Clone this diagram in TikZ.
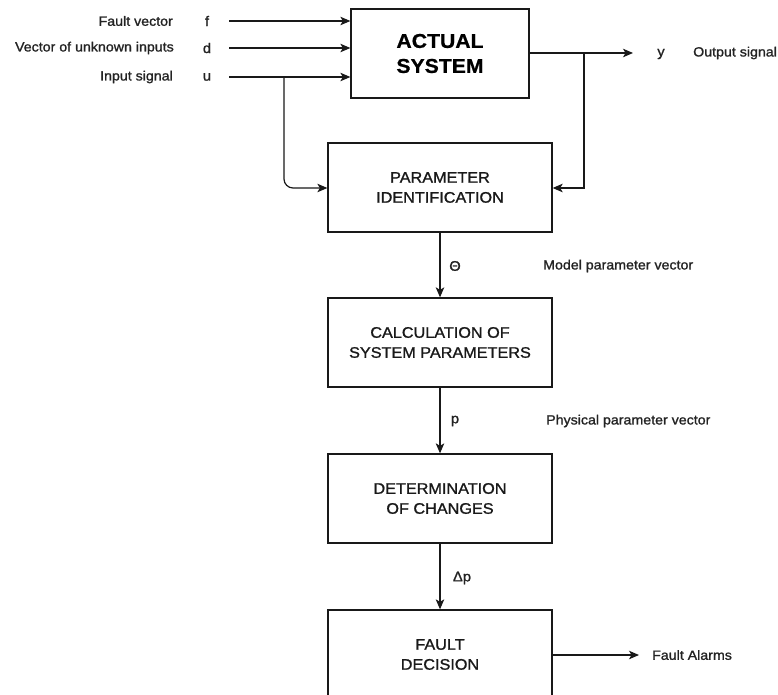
\documentclass[tikz,border=0pt]{standalone}
\usepackage{fontspec}
\setmainfont{Liberation Sans}[FakeStretch=1.06,FakeBold=1.2,
  BoldFont=Liberation Sans Bold,BoldFeatures={FakeStretch=1.06,FakeBold=0.6}]
\usetikzlibrary{arrows.meta}
\definecolor{ink}{RGB}{25,25,25}
\definecolor{labelink}{RGB}{35,35,35}
\begin{document}
\begin{tikzpicture}[x=1pt,y=-1pt,
  block/.style={draw=ink,line width=1.3pt,minimum width=224pt,minimum height=89pt,
    inner sep=0pt,align=center,font=\fontsize{15.3}{20}\selectfont,text=ink},
  sysblock/.style={block,minimum width=178pt,
    font=\fontsize{20}{25}\selectfont\bfseries,text=black},
  lbl/.style={font=\fontsize{13.4}{16}\selectfont,text=labelink,inner sep=0pt},
  sym/.style={font=\fontsize{14}{16}\selectfont,text=labelink,inner sep=0pt},
  flow/.style={draw=ink,line width=1.2pt,-{Stealth[length=10pt,width=8.5pt,inset=2.5pt]}},
  wire/.style={draw=ink,line width=1.2pt}
]
\useasboundingbox[fill=white] (0,0) rectangle (778,695);

% blocks
\node[sysblock] (sys) at (440,53.5) {ACTUAL\\SYSTEM};
\node[block] (pid) at (440,187.5) {PARAMETER\\IDENTIFICATION};
\node[block] (calc) at (440,342.5) {CALCULATION OF\\SYSTEM PARAMETERS};
\node[block] (det) at (440,498.5) {DETERMINATION\\OF CHANGES};
\node[block] (dec) at (440,654.5) {FAULT\\DECISION};

% input signals
\node[lbl,anchor=east] (fname) at (173,21) {Fault vector};
\node[lbl,anchor=east] (dname) at (174,48) {Vector of unknown inputs};
\node[lbl,anchor=east] (uname) at (173,77) {Input signal};
\node[sym] (fsym) at (207,21) {f};
\node[sym] (dsym) at (207,48) {d};
\node[sym] (usym) at (207,77) {u};
\coordinate (fin) at (229,21);
\coordinate (din) at (229,48);
\coordinate (uin) at (229,77);
\coordinate (usplit) at (284,77);
\draw[flow] (fin) -- (fin -| sys.west);
\draw[flow] (din) -- (din -| sys.west);
\draw[flow] (uin) -- (uin -| sys.west);
\draw[flow,rounded corners=9pt] (usplit) -- (284,188) -- (pid.west |- 0,188);

% output signal
\coordinate (yout) at (633,53);
\coordinate (ysplit) at (584,53);
\node[sym] (ysym) at (661,54) {y};
\node[lbl,anchor=west] (yname) at (693,53) {Output signal};
\draw[flow] (sys.east |- yout) -- (yout);
\draw[flow] (ysplit) -- (584,188) -- (pid.east |- 0,188);

% parameter chain
\draw[flow] (pid) -- (calc);
\node[sym] (theta) at (455,266) {Θ};
\node[lbl,anchor=west] (thetaname) at (543,266) {Model parameter vector};
\draw[flow] (calc) -- (det);
\node[sym] (psym) at (455,421) {p};
\node[lbl,anchor=west] (pname) at (546,421) {Physical parameter vector};
\draw[flow] (det) -- (dec);
\node[sym] (dpsym) at (462,578) {Δp};

% alarms
\coordinate (alarm) at (639,655);
\draw[flow] (dec.east |- alarm) -- (alarm);
\node[lbl,anchor=west] (alarmname) at (652,655) {Fault Alarms};
\end{tikzpicture}
\end{document}
